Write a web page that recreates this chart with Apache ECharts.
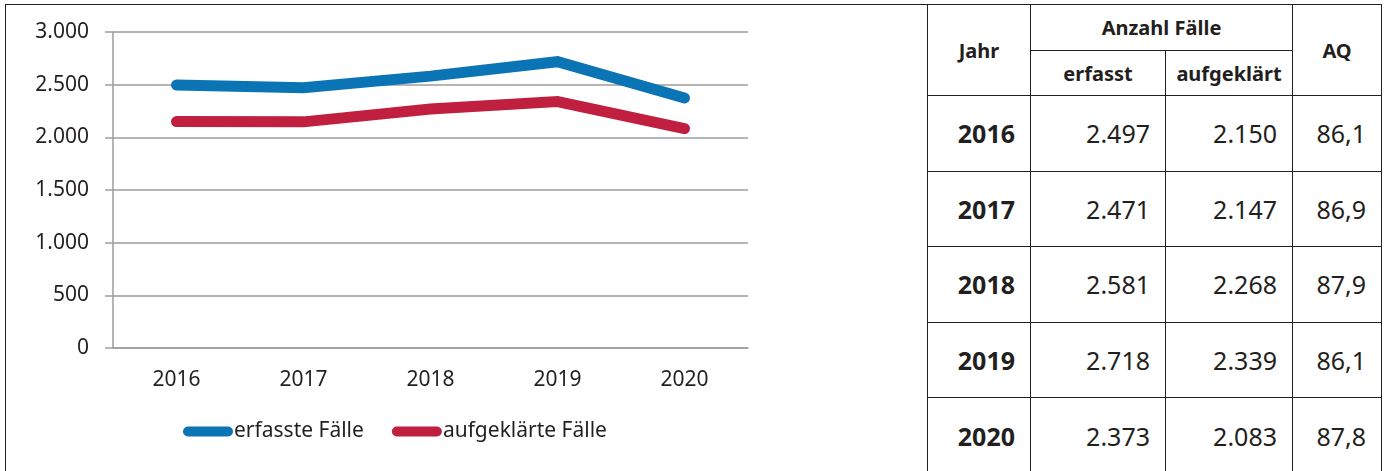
<!DOCTYPE html>
<html>
<head>
<meta charset="utf-8">
<script src="https://cdn.jsdelivr.net/npm/echarts@6/dist/echarts.min.js"></script>
<style>
  html, body { margin: 0; padding: 0; background: #fff; }
  body { width: 1388px; height: 471px; position: relative; overflow: hidden; font-family: "Noto Sans", sans-serif; color: #231f20; }
  #box { position: absolute; left: 5px; top: 4px; width: 930px; height: 480px; border-left: 1.5px solid #231f20; border-top: 1.5px solid #231f20; box-sizing: border-box; }
  #chart { position: absolute; left: 0; top: 0; width: 927px; height: 471px; }
  #tab { position: absolute; left: 927px; top: 4px; width: 454px; border-collapse: collapse; table-layout: fixed; background: #fff; }
  #tab td, #tab th { border: 1.5px solid #231f20; }
  #tab th { font-weight: bold; font-size: 20px; text-align: center; padding: 0; }
  #tab td { font-size: 25px; text-align: right; padding: 0 15px 0 0; }
  #tab td.yr { font-weight: bold; }
</style>
</head>
<body>
<div id="box"></div>
<div id="chart"></div>
<table id="tab"></table>
<script>
// Daten
var jahre = ['2016', '2017', '2018', '2019', '2020'];
var erfasst = [2497, 2471, 2581, 2718, 2373];
var aufgeklaert = [2150, 2147, 2268, 2339, 2083];
var aq = [86.1, 86.9, 87.9, 86.1, 87.8];
var yTicks = [0, 500, 1000, 1500, 2000, 2500, 3000];

var fmt = function (v) {
    return String(v).replace(/\B(?=(\d{3})+(?!\d))/g, '.');
};

var blau = '#0b74b5';
var rot = '#c01f3f';
var pill = 'path://M5,0 L45,0 A5,5 0 0 1 45,10 L5,10 A5,5 0 0 1 5,0 Z';

var option = {
    animation: false,
    textStyle: { fontFamily: 'Noto Sans' },
    grid: { left: 113, top: 32, width: 635, height: 316 },
    legend: {
        left: 178, top: 416,
        itemWidth: 50, itemHeight: 10, itemGap: 28,
        textStyle: { fontSize: 21, color: '#231f20', padding: [0, 0, 0, -4] },
        data: [
            { name: 'erfasste Fälle', icon: pill },
            { name: 'aufgeklärte Fälle', icon: pill }
        ]
    },
    xAxis: {
        type: 'category',
        data: jahre,
        axisLine: { lineStyle: { color: '#9d9d9d', width: 1.5 } },
        axisTick: { length: 7, lineStyle: { color: '#9d9d9d', width: 1.5 } },
        axisLabel: { fontSize: 21, color: '#231f20', margin: 22 }
    },
    yAxis: {
        type: 'value',
        min: yTicks[0], max: yTicks[yTicks.length - 1], interval: 500,
        axisLine: { show: true, lineStyle: { color: '#9d9d9d', width: 1.5 } },
        axisTick: { show: true, length: 8, lineStyle: { color: '#9d9d9d', width: 1.5 } },
        splitLine: { lineStyle: { color: '#9d9d9d', width: 1.5 } },
        axisLabel: { fontSize: 21, color: '#231f20', margin: 24, formatter: fmt }
    },
    series: [
        {
            name: 'erfasste Fälle', type: 'line', data: erfasst,
            symbol: 'none', color: blau,
            lineStyle: { width: 11, cap: 'round', join: 'miter' }
        },
        {
            name: 'aufgeklärte Fälle', type: 'line', data: aufgeklaert,
            symbol: 'none', color: rot,
            lineStyle: { width: 11, cap: 'round', join: 'miter' }
        }
    ]
};

var myChart = echarts.init(document.getElementById('chart'), null, { renderer: 'canvas' });
myChart.setOption(option);

// Tabelle
var colW = [103, 135, 127, 89];
var html = '<colgroup>' + colW.map(function (w) { return '<col style="width:' + w + 'px">'; }).join('') + '</colgroup>';
html += '<tr style="height:46px"><th rowspan="2">Jahr</th><th colspan="2">Anzahl Fälle</th><th rowspan="2">AQ</th></tr>';
html += '<tr style="height:45px"><th>erfasst</th><th>aufgeklärt</th></tr>';
for (var i = 0; i < jahre.length; i++) {
    html += '<tr style="height:75.6px"><td class="yr">' + jahre[i] + '</td><td>' + fmt(erfasst[i]) +
        '</td><td>' + fmt(aufgeklaert[i]) + '</td><td>' + aq[i].toFixed(1).replace('.', ',') + '</td></tr>';
}
document.getElementById('tab').innerHTML = html;
</script>
</body>
</html>
